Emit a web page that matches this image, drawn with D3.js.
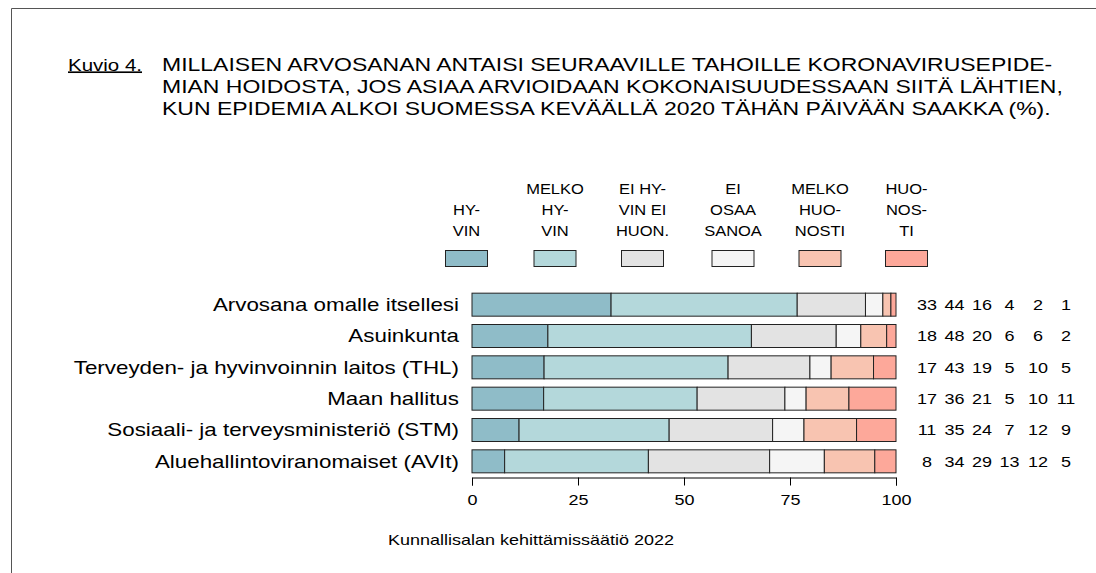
<!DOCTYPE html>
<html>
<head>
<meta charset="utf-8">
<script src="https://cdn.jsdelivr.net/npm/d3@7"></script>
<style>
  body { margin: 0; background: #fff; }
  text { font-family: "Liberation Sans", Arial, sans-serif; fill: #000; }
</style>
</head>
<body>
<div id="graph"></div>
<script>
// data
const categories = [
  "Arvosana omalle itsellesi",
  "Asuinkunta",
  "Terveyden- ja hyvinvoinnin laitos (THL)",
  "Maan hallitus",
  "Sosiaali- ja terveysministeriö (STM)",
  "Aluehallintoviranomaiset (AVIt)"
]
const keys = ["hyvin", "melkoHyvin", "eiHyvinEiHuon", "eiOsaa", "melkoHuonosti", "huonosti"]
const legendLabels = [
  ["HY-", "VIN"],
  ["MELKO", "HY-", "VIN"],
  ["EI HY-", "VIN EI", "HUON."],
  ["EI", "OSAA", "SANOA"],
  ["MELKO", "HUO-", "NOSTI"],
  ["HUO-", "NOS-", "TI"]
]
const colors = ["#8fbcc8", "#b4d8db", "#e3e3e3", "#f5f5f5", "#f8c4b1", "#fda89a"]
const hyvin         = [32.8, 17.9, 17.0, 16.9, 11.1, 7.7]
const melkoHyvin    = [43.9, 48.0, 43.4, 36.2, 35.4, 33.9]
const eiHyvinEiHuon = [16.1, 20.0, 19.3, 20.7, 24.4, 28.6]
const eiOsaa        = [4.1, 5.8, 5.0, 5.0, 7.4, 12.9]
const melkoHuonosti = [1.9, 6.1, 10.0, 10.1, 12.4, 11.9]
const huonosti      = [1.2, 2.2, 5.3, 11.1, 9.3, 5.0]
const xTicks = [0, 25, 50, 75, 100]

const W = 1096, H = 573
const SX = 1.25 // the picture's text is stretched sideways

function place(x, y, s) {
  return "translate(" + x + "," + y + ") scale(" + (s || SX) + ",1)"
}

const svg = d3.select("#graph").append("svg").attr("width", W).attr("height", H)

// frame (only left and top edges show)
svg.append("path").attr("d", "M11.5,573 L11.5,8.5 L1096,8.5")
    .attr("fill", "none").attr("stroke", "#555").attr("stroke-width", 1)

// title
svg.append("text").attr("transform", place(68, 70.5)).attr("font-size", 16.4)
    .attr("text-decoration", "underline").text("Kuvio 4.")
const titleLines = [
  "MILLAISEN ARVOSANAN ANTAISI SEURAAVILLE TAHOILLE KORONAVIRUSEPIDE-",
  "MIAN HOIDOSTA, JOS ASIAA ARVIOIDAAN KOKONAISUUDESSAAN SIITÄ LÄHTIEN,",
  "KUN EPIDEMIA ALKOI SUOMESSA KEVÄÄLLÄ 2020 TÄHÄN PÄIVÄÄN SAAKKA (%)."
]
svg.append("g").selectAll("text").data(titleLines).enter().append("text")
    .attr("transform", (d, i) => place(162, 70.5 + i * 22))
    .attr("font-size", 18.4).text(d => d)

const rows = categories.map((c, i) => ({
  cat: c,
  hyvin: hyvin[i], melkoHyvin: melkoHyvin[i], eiHyvinEiHuon: eiHyvinEiHuon[i],
  eiOsaa: eiOsaa[i], melkoHuonosti: melkoHuonosti[i], huonosti: huonosti[i]
}))

const x = d3.scaleLinear().domain([0, 100]).range([472, 896])
const y = d3.scaleBand().domain(categories).range([289, 477]).paddingInner(0.266).paddingOuter(0.133)
const color = d3.scaleOrdinal().domain(keys).range(colors)

const series = d3.stack().keys(keys)(rows)

svg.append("g").selectAll("g").data(series).enter().append("g")
    .attr("fill", d => color(d.key))
    .selectAll("rect").data(d => d).enter().append("rect")
    .attr("x", d => x(d[0]))
    .attr("y", d => y(d.data.cat))
    .attr("width", d => x(d[1]) - x(d[0]))
    .attr("height", y.bandwidth())
    .attr("stroke", "#222").attr("stroke-width", 1)

// category labels
svg.append("g").selectAll("text").data(categories).enter().append("text")
    .attr("transform", d => place(459, y(d) + y.bandwidth() / 2))
    .attr("dy", "0.36em").attr("text-anchor", "end").attr("font-size", 17.9)
    .text(d => d)

// value columns
const colX = [927, 954.5, 982, 1009.5, 1038, 1066]
keys.forEach((k, j) => {
  svg.append("g").selectAll("text").data(rows).enter().append("text")
      .attr("transform", d => place(colX[j], y(d.cat) + y.bandwidth() / 2))
      .attr("dy", "0.36em").attr("text-anchor", "middle").attr("font-size", 14.4)
      .text(d => Math.round(d[k]))
})

// axis
const xAxis = d3.axisBottom(x).tickValues(xTicks).tickSize(8).tickPadding(9.5)
const ax = svg.append("g").attr("transform", "translate(0,477.5)").call(xAxis)
ax.select(".domain").attr("stroke", "#000")
ax.selectAll(".tick line").attr("stroke", "#000")
ax.selectAll(".tick text").attr("font-size", 14.4)
    .attr("font-family", "Liberation Sans, Arial, sans-serif").attr("fill", "#000")
    .attr("transform", "scale(" + SX + ",1)")

// legend
const legX = [466.5, 555, 642.5, 733, 820, 906.5]
const leg = svg.append("g").selectAll("g").data(keys).enter().append("g")
    .attr("transform", (d, i) => "translate(" + legX[i] + ",0)")
leg.append("rect").attr("x", -21).attr("y", 250.5).attr("width", 42).attr("height", 16)
    .attr("fill", d => color(d)).attr("stroke", "#222").attr("stroke-width", 1)
leg.each(function (d, i) {
  const lines = legendLabels[i]
  d3.select(this).selectAll("text").data(lines).enter().append("text")
      .attr("text-anchor", "middle").attr("font-size", 14.4)
      .attr("transform", (t, k) => place(0, 235.5 - (lines.length - 1 - k) * 21, 1.146))
      .text(t => t)
})

// source
svg.append("text").attr("transform", place(531, 545)).attr("text-anchor", "middle")
    .attr("font-size", 14.4).text("Kunnallisalan kehittämissäätiö 2022")
</script>
</body>
</html>
